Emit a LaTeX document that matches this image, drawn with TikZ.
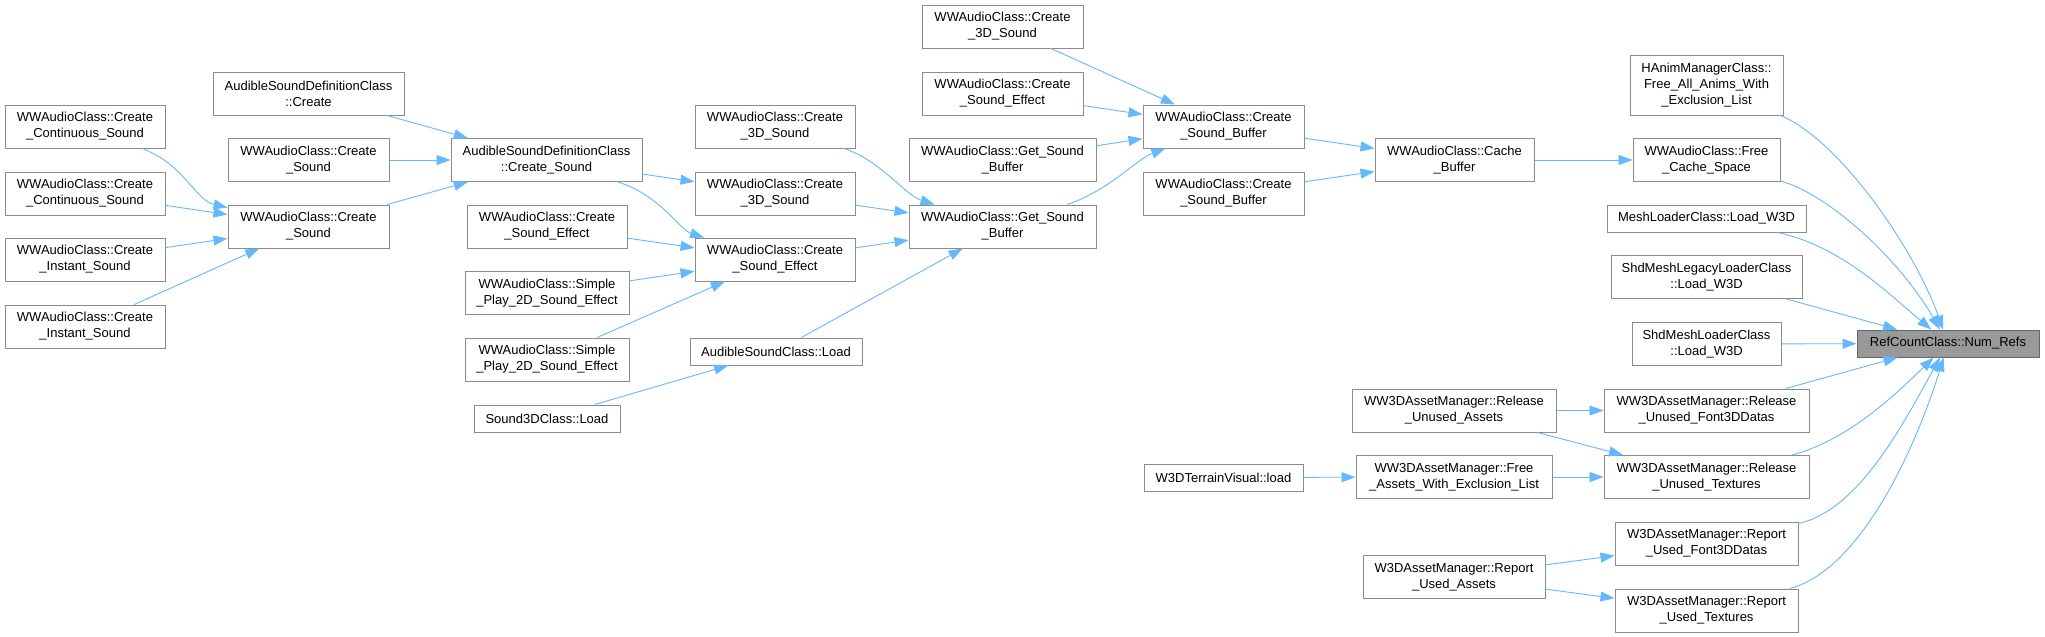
\documentclass[tikz,border=0pt]{standalone}
\usepackage{fontspec}
\setmainfont{Liberation Sans}
\usepackage{xcolor}
\usepackage{tikz}
\usetikzlibrary{arrows.meta}
\definecolor{edgeblue}{HTML}{63B8FF}
\definecolor{boxgray}{HTML}{8C8C8C}
\definecolor{hitgray}{HTML}{999999}

\begin{document}
\begin{tikzpicture}[x=1pt, y=-1pt, >={Triangle[length=14pt,width=10pt]},
  font=\fontsize{13}{16}\selectfont,
  fn/.style={draw=boxgray, line width=1pt, fill=white, align=center, inner sep=0pt, minimum height=43pt},
  one/.style={fn, minimum height=27pt},
  hit/.style={one, fill=hitgray, draw=black!60},
  call/.style={->, draw=edgeblue, line width=0.9pt}]
\useasboundingbox (0,0) rectangle (2045,637);
% callers of Create_Sound
\node[fn, minimum width=160] (ccsa) at (85,126.5) {WWAudioClass::Create\\\_Continuous\_Sound};
\node[fn, minimum width=160] (ccsb) at (85,193.5) {WWAudioClass::Create\\\_Continuous\_Sound};
\node[fn, minimum width=160] (cisa) at (85,259.5) {WWAudioClass::Create\\\_Instant\_Sound};
\node[fn, minimum width=160] (cisb) at (85,326.5) {WWAudioClass::Create\\\_Instant\_Sound};
\node[fn, minimum width=191] (asdcc) at (308.5,93.5) {AudibleSoundDefinitionClass\\::Create};
\node[fn, minimum width=161] (csa) at (308.5,160) {WWAudioClass::Create\\\_Sound};
\node[fn, minimum width=161] (csb) at (308.5,226.5) {WWAudioClass::Create\\\_Sound};
\node[fn, minimum width=191] (asdccs) at (546.5,160) {AudibleSoundDefinitionClass\\::Create\_Sound};
\node[fn, minimum width=160] (cse1) at (547,226.5) {WWAudioClass::Create\\\_Sound\_Effect};
\node[fn, minimum width=164] (spa) at (547,293) {WWAudioClass::Simple\\\_Play\_2D\_Sound\_Effect};
\node[fn, minimum width=164] (spb) at (547,359.5) {WWAudioClass::Simple\\\_Play\_2D\_Sound\_Effect};
\node[one, minimum width=146] (s3dl) at (547,418.5) {Sound3DClass::Load};
% callers of Get_Sound_Buffer
\node[fn, minimum width=160] (c3da) at (775,126.5) {WWAudioClass::Create\\\_3D\_Sound};
\node[fn, minimum width=160] (c3db) at (775,193.5) {WWAudioClass::Create\\\_3D\_Sound};
\node[fn, minimum width=160] (cse2) at (775,259.5) {WWAudioClass::Create\\\_Sound\_Effect};
\node[one, minimum width=172] (asl) at (776,351.5) {AudibleSoundClass::Load};
\node[fn, minimum width=161] (c3dc) at (1002.5,26.5) {WWAudioClass::Create\\\_3D\_Sound};
\node[fn, minimum width=161] (cse3) at (1002.5,93.5) {WWAudioClass::Create\\\_Sound\_Effect};
\node[fn, minimum width=187] (gsba) at (1002.5,160) {WWAudioClass::Get\_Sound\\\_Buffer};
\node[fn, minimum width=187] (gsbb) at (1002.5,226.5) {WWAudioClass::Get\_Sound\\\_Buffer};
\node[fn, minimum width=161] (csba) at (1223.5,126.5) {WWAudioClass::Create\\\_Sound\_Buffer};
\node[fn, minimum width=161] (csbb) at (1223.5,193.5) {WWAudioClass::Create\\\_Sound\_Buffer};
\node[fn, minimum width=159] (cache) at (1454.5,160) {WWAudioClass::Cache\\\_Buffer};
% direct callers
\node[fn, minimum width=153, minimum height=60] (hanim) at (1706.5,85) {HAnimManagerClass::\\Free\_All\_Anims\_With\\\_Exclusion\_List};
\node[fn, minimum width=147] (fcs) at (1706.5,160) {WWAudioClass::Free\\\_Cache\_Space};
\node[one, minimum width=199] (mesh) at (1706.5,218.5) {MeshLoaderClass::Load\_W3D};
\node[fn, minimum width=191] (legacy) at (1706.5,277) {ShdMeshLegacyLoaderClass\\::Load\_W3D};
\node[fn, minimum width=149] (shd) at (1706.5,344) {ShdMeshLoaderClass\\::Load\_W3D};
\node[fn, minimum width=205] (relfont) at (1706.5,410.5) {WW3DAssetManager::Release\\\_Unused\_Font3DDatas};
\node[fn, minimum width=205] (reltex) at (1706.5,477) {WW3DAssetManager::Release\\\_Unused\_Textures};
\node[fn, minimum width=183] (repfont) at (1706.5,543.5) {W3DAssetManager::Report\\\_Used\_Font3DDatas};
\node[fn, minimum width=183] (reptex) at (1706.5,610.5) {W3DAssetManager::Report\\\_Used\_Textures};
\node[hit, minimum width=182] (refs) at (1948,343.5) {RefCountClass::Num\_Refs};
\node[fn, minimum width=204] (relassets) at (1454,410.5) {WW3DAssetManager::Release\\\_Unused\_Assets};
\node[fn, minimum width=196] (freeassets) at (1454,477) {WW3DAssetManager::Free\\\_Assets\_With\_Exclusion\_List};
\node[fn, minimum width=182] (repassets) at (1454,577) {W3DAssetManager::Report\\\_Used\_Assets};
\node[one, minimum width=159] (terrain) at (1223.5,477.5) {W3DTerrainVisual::load};
% edges
\draw[call] (ccsa) .. controls (185,165) and (195,200) .. (csb);
\draw[call] (ccsb) -- (csb);
\draw[call] (cisa) -- (csb);
\draw[call] (cisb) -- (csb);
\draw[call] (asdcc) -- (asdccs);
\draw[call] (csa) -- (asdccs);
\draw[call] (csb) -- (asdccs);
\draw[call] (asdccs) -- (c3db);
\draw[call] (asdccs) .. controls (660,195) and (680,230) .. (cse2);
\draw[call] (cse1) -- (cse2);
\draw[call] (spa) -- (cse2);
\draw[call] (spb) -- (cse2);
\draw[call] (s3dl) -- (asl);
\draw[call] (c3da) .. controls (880,160) and (905,195) .. (gsbb);
\draw[call] (c3db) -- (gsbb);
\draw[call] (cse2) -- (gsbb);
\draw[call] (asl) -- (gsbb);
\draw[call] (c3dc) -- (csba);
\draw[call] (cse3) -- (csba);
\draw[call] (gsba) -- (csba);
\draw[call] (gsbb) .. controls (1110,190) and (1135,160) .. (csba);
\draw[call] (csba) -- (cache);
\draw[call] (csbb) -- (cache);
\draw[call] (cache) -- (fcs);
\draw[call] (hanim) .. controls (1840,140) and (1915,250) .. (refs);
\draw[call] (fcs) .. controls (1830,195) and (1900,260) .. (refs);
\draw[call] (mesh) .. controls (1840,245) and (1890,295) .. (refs);
\draw[call] (legacy) -- (refs);
\draw[call] (shd) -- (refs);
\draw[call] (relfont) -- (refs);
\draw[call] (reltex) .. controls (1850,440) and (1900,390) .. (refs);
\draw[call] (repfont) .. controls (1860,510) and (1905,420) .. (refs);
\draw[call] (reptex) .. controls (1860,570) and (1915,450) .. (refs);
\draw[call] (relassets) -- (relfont);
\draw[call] (relassets) -- (reltex);
\draw[call] (freeassets) -- (reltex);
\draw[call] (terrain) -- (freeassets);
\draw[call] (repassets) -- (repfont);
\draw[call] (repassets) -- (reptex);
\end{tikzpicture}
\end{document}
